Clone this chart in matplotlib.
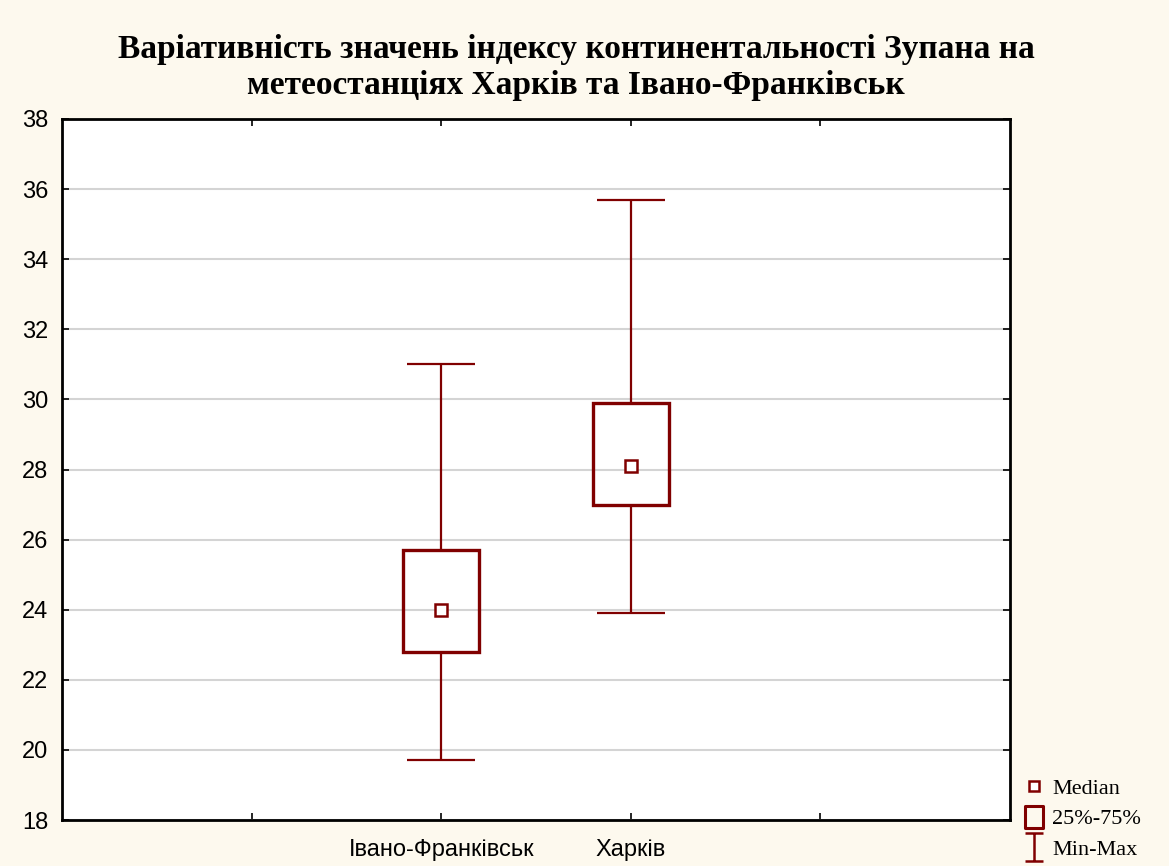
import numpy as np
import matplotlib.pyplot as plt
from matplotlib.path import Path
from matplotlib.patches import Rectangle
from matplotlib.lines import Line2D

stations = ['Івано-Франківськ', 'Харків']
positions = [2, 3]
minimum = [19.7, 23.9]
q25 = [22.8, 27.0]
median = [24.0, 28.1]
q75 = [25.7, 29.9]
maximum = [31.0, 35.7]

red = '#800000'
bg = '#fdf9ee'

fig = plt.figure(figsize=(11.69, 8.66), dpi=100, facecolor=bg)
ax = fig.add_axes([0.053, 0.0531, 0.811, 0.8095])
ax.set_facecolor('white')

box_w = 0.4
cap_w = 0.36
for p, lo, a, m, b, hi in zip(positions, minimum, q25, median, q75, maximum):
    ax.vlines(p, lo, a, color=red, lw=1.6, zorder=3)
    ax.vlines(p, b, hi, color=red, lw=1.6, zorder=3)
    ax.hlines([lo, hi], p - cap_w / 2, p + cap_w / 2, color=red, lw=1.6, zorder=3)
    ax.add_patch(Rectangle((p - box_w / 2, a), box_w, b - a, fill=False,
                           edgecolor=red, lw=2.4, zorder=4))
    ax.plot(p, m, marker='s', ms=8, mfc='white', mec=red, mew=1.8, zorder=5)

ax.set_xlim(0, 5)
ax.set_ylim(18, 38)
ax.set_yticks(np.arange(18, 39, 2))
ax.set_xticks([1, 2, 3, 4])
ax.set_xticklabels(['', stations[0], stations[1], ''])
ax.grid(axis='y', color='#d4d4d4', lw=1.5, zorder=0)
ax.set_axisbelow(True)
ax.tick_params(direction='in', length=5, width=1.2, top=True, right=True,
               labelsize=17, colors='black')
ax.tick_params(axis='y', pad=10)
ax.tick_params(axis='x', pad=14)
for lab in ax.get_xticklabels() + ax.get_yticklabels():
    lab.set_family(['Liberation Sans', 'DejaVu Sans'])
for s in ax.spines.values():
    s.set_linewidth(2)

fig.text(0.493, 0.922, 'Варіативність значень індексу континентальності Зупана на\n'
         'метеостанціях Харків та Івано-Франківськ',
         ha='center', va='center', fontsize=24, fontweight='bold',
         family=['Liberation Serif', 'DejaVu Serif'], linespacing=1.2)

# legend glyphs: small square, tall box, I-beam for the range
box_path = Path([(-0.82, -1), (0.82, -1), (0.82, 1), (-0.82, 1), (-0.82, -1)],
                [Path.MOVETO, Path.LINETO, Path.LINETO, Path.LINETO, Path.CLOSEPOLY])
ibeam = Path([(-0.64, 1), (0.64, 1), (0, 1), (0, -1), (-0.64, -1), (0.64, -1)],
             [Path.MOVETO, Path.LINETO, Path.MOVETO, Path.LINETO,
              Path.MOVETO, Path.LINETO])
handles = [
    Line2D([], [], ls='none', marker='s', ms=7, mfc='white', mec=red, mew=1.8),
    Line2D([], [], ls='none', marker=box_path, ms=16, mfc='none', mec=red, mew=2.2),
    Line2D([], [], ls='none', marker=ibeam, ms=20, mec=red, mew=1.8),
]
fig.legend(handles, ['Median', '25%-75%', 'Min-Max'], loc='lower left',
           bbox_to_anchor=(0.862, -0.011), frameon=False, handlelength=1.0,
           handletextpad=0.3, labelspacing=0.45, borderpad=0.2,
           prop={'family': ['Liberation Serif', 'DejaVu Serif'], 'size': 16})

fig.savefig('out.png', dpi=100, facecolor=bg)
